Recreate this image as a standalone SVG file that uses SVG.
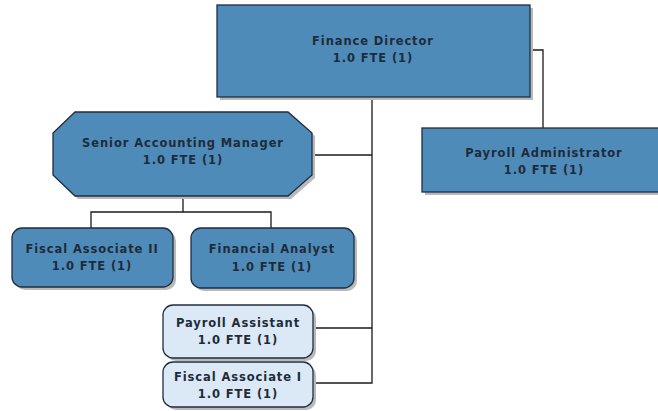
<svg xmlns="http://www.w3.org/2000/svg" width="658" height="411" viewBox="0 0 658 411">
  <defs>
    <style>
      .dark { fill: #4e8bb8; stroke: #1f2d3f; stroke-width: 1.3; }
      .light { fill: #dbe9f6; stroke: #1f2d3f; stroke-width: 1.3; }
      .shadow { fill: #b9b9b9; }
      .lbl { font-family: "DejaVu Sans", Verdana, sans-serif; font-weight: bold; font-size: 11.5px; fill: #1e2b3c; text-anchor: middle; letter-spacing: 0.9px; }
      .wire { fill: none; stroke: #1a1a1a; stroke-width: 1.3; }
    </style>
  </defs>
  <rect width="658" height="411" fill="#ffffff"/>

  <g id="connectors">
    <polyline class="wire" points="530,50 543,50 543,128"/>
    <polyline class="wire" points="372,97 372,383 313,383"/>
    <line class="wire" x1="312" y1="155" x2="372" y2="155"/>
    <line class="wire" x1="313" y1="328" x2="372" y2="328"/>
    <polyline class="wire" points="183,196 183,212"/>
    <polyline class="wire" points="91,228 91,212 271,212 271,228"/>
  </g>

  <g id="finance-director">
    <rect class="shadow" x="220" y="8" width="313" height="92"/>
    <rect class="dark" x="217" y="5" width="313" height="92"/>
    <text class="lbl" x="373" y="45">Finance Director</text>
    <text class="lbl" x="373" y="62">1.0 FTE (1)</text>
  </g>

  <g id="payroll-administrator">
    <rect class="shadow" x="425" y="131" width="240" height="64"/>
    <rect class="dark" x="422" y="128" width="240" height="64"/>
    <text class="lbl" x="544" y="157">Payroll Administrator</text>
    <text class="lbl" x="544" y="174">1.0 FTE (1)</text>
  </g>

  <g id="senior-accounting-manager">
    <polygon class="shadow" points="78,115 291,115 315,136 315,178 291,199 78,199 56,178 56,136"/>
    <polygon class="dark" points="75,112 288,112 312,133 312,175 288,196 75,196 53,175 53,133"/>
    <text class="lbl" x="183" y="147">Senior Accounting Manager</text>
    <text class="lbl" x="183" y="164">1.0 FTE (1)</text>
  </g>

  <g id="fiscal-associate-ii">
    <rect class="shadow" x="15" y="231" width="161" height="59" rx="10"/>
    <rect class="dark" x="12" y="228" width="161" height="59" rx="10"/>
    <text class="lbl" x="92" y="253">Fiscal Associate II</text>
    <text class="lbl" x="92" y="270">1.0 FTE (1)</text>
  </g>

  <g id="financial-analyst">
    <rect class="shadow" x="194" y="231" width="163" height="60" rx="10"/>
    <rect class="dark" x="191" y="228" width="163" height="60" rx="10"/>
    <text class="lbl" x="272" y="253">Financial Analyst</text>
    <text class="lbl" x="272" y="271">1.0 FTE (1)</text>
  </g>

  <g id="payroll-assistant">
    <rect class="shadow" x="166" y="308" width="150" height="53" rx="10"/>
    <rect class="light" x="163" y="305" width="150" height="53" rx="10"/>
    <text class="lbl" x="238" y="327">Payroll Assistant</text>
    <text class="lbl" x="238" y="344">1.0 FTE (1)</text>
  </g>

  <g id="fiscal-associate-i">
    <rect class="shadow" x="166" y="365" width="150" height="45" rx="10"/>
    <rect class="light" x="163" y="362" width="150" height="45" rx="10"/>
    <text class="lbl" x="238" y="381">Fiscal Associate I</text>
    <text class="lbl" x="238" y="398">1.0 FTE (1)</text>
  </g>
</svg>
